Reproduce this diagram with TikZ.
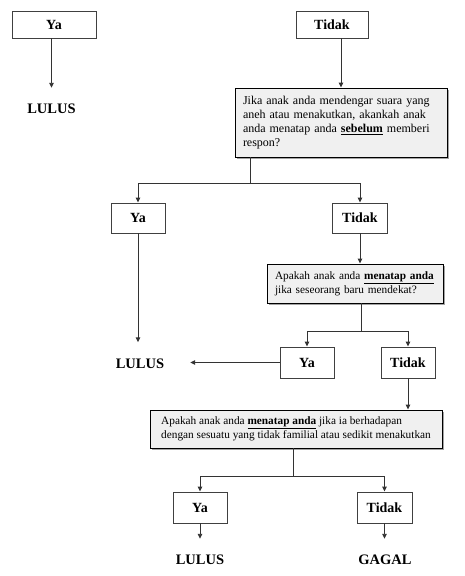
\documentclass[tikz,border=0pt]{standalone}
\usepackage{fontspec}
\setmainfont{Liberation Serif}
\usetikzlibrary{arrows.meta}
\usetikzlibrary{shadows}

\begin{document}
\begin{tikzpicture}[x=1pt,y=-1pt,
    answer/.style={draw=black!75, line width=0.9pt, fill=white, font=\fontsize{14}{16}\selectfont\bfseries},
    question/.style={draw=black, line width=0.9pt, fill=black!6, align=left, inner xsep=8pt,
        drop shadow={shadow xshift=1.5pt, shadow yshift=-1.5pt, fill=black!45, opacity=0.8},
        font=\fontsize{11.3}{14}\selectfont},
    result/.style={minimum width=100pt, minimum height=42pt, font=\fontsize{14.5}{16}\selectfont\bfseries},
    arr/.style={-{Triangle[length=5pt,width=4.5pt]}, line width=0.9pt, draw=black!80},
    link/.style={line width=0.9pt, draw=black!80}]
    \useasboundingbox (0,0) rectangle (464,576);

    % first question: Ya / Tidak
    \node[answer, minimum width=84pt, minimum height=27pt] (ya1) at (54,24.5) {Ya};
    \node[answer, minimum width=72pt, minimum height=27pt] (tidak1) at (332,24.5) {Tidak};
    \node[result] (lulus1) at (51.5,109) {LULUS};
    \draw[arr] (ya1.south -| lulus1) -- (lulus1.north);

    \node[question, text width=196pt, minimum height=69pt, font=\fontsize{12}{14}\selectfont] (q1) at (341,122.5)
        {Jika anak anda mendengar suara yang\\aneh atau menakutkan, akankah anak\\anda menatap anda \underline{\textbf{sebelum}} memberi\\respon?};
    \draw[arr] (tidak1.south -| q1.north) -- (q1.north);

    % second level
    \coordinate (split1) at (250,183);
    \node[answer, minimum width=54pt, minimum height=30pt] (ya2) at (138,218) {Ya};
    \node[answer, minimum width=55pt, minimum height=30pt] (tidak2) at (360,218) {Tidak};
    \draw[link] (q1.south -| split1) -- (split1);
    \draw[arr] (split1) -| (ya2.north);
    \draw[arr] (split1) -| (tidak2.north);

    \node[result] (lulus2) at (140,363.5) {LULUS};
    \draw[arr] (ya2.south) -- (ya2.south |- lulus2.north);

    \node[question, text width=160pt, minimum height=39pt] (q2) at (355,283.5)
        {Apakah anak anda \underline{\textbf{menatap anda}}\\jika seseorang baru mendekat?};
    \draw[arr] (tidak2.south) -- (tidak2.south |- q2.north);

    % third level
    \coordinate (split2) at (361,331);
    \node[answer, minimum width=54pt, minimum height=31pt] (ya3) at (307,362.5) {Ya};
    \node[answer, minimum width=54pt, minimum height=31pt] (tidak3) at (408,362.5) {Tidak};
    \draw[link] (q2.south -| split2) -- (split2);
    \draw[arr] (split2) -| (ya3.north);
    \draw[arr] (split2) -| (tidak3.north);
    \draw[arr] (ya3.west) -- (ya3.west -| lulus2.east);

    \node[question, minimum width=292pt, minimum height=38pt] (q3) at (296,429)
        {Apakah anak anda \underline{\textbf{menatap anda}} jika ia berhadapan\\dengan sesuatu yang tidak familial atau sedikit menakutkan};
    \draw[arr] (tidak3.south) -- (tidak3.south |- q3.north);

    % last level
    \coordinate (split3) at (293,476);
    \node[answer, minimum width=54pt, minimum height=31pt] (ya4) at (200,507.5) {Ya};
    \node[answer, minimum width=55pt, minimum height=31pt] (tidak4) at (384.5,507.5) {Tidak};
    \draw[link] (q3.south -| split3) -- (split3);
    \draw[arr] (split3) -| (ya4.north);
    \draw[arr] (split3) -| (tidak4.north);

    \node[result] (lulus3) at (200,560) {LULUS};
    \node[result] (gagal) at (385,560) {GAGAL};
    \draw[arr] (ya4.south) -- (ya4.south |- lulus3.north);
    \draw[arr] (tidak4.south) -- (tidak4.south |- gagal.north);
\end{tikzpicture}
\end{document}
